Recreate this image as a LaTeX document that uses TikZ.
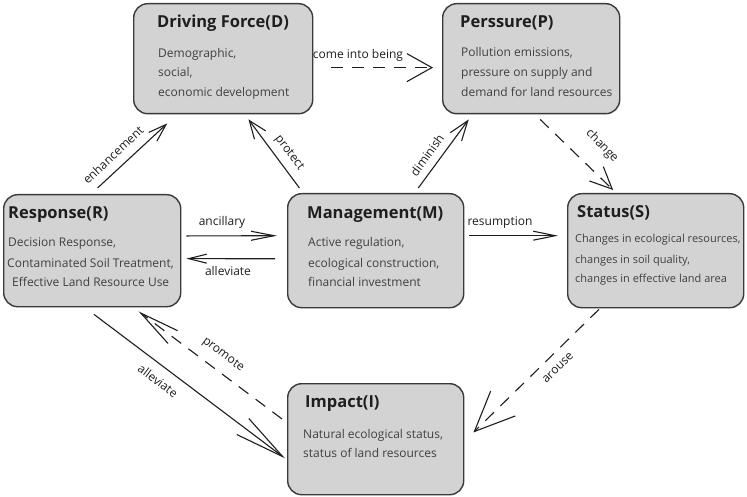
\documentclass[tikz,border=0pt]{standalone}
\usepackage{fontspec}
\setmainfont{Open Sans}
\usetikzlibrary{arrows.meta,calc}
\definecolor{boxfill}{RGB}{211,211,211}
\definecolor{boxline}{RGB}{58,58,58}
\definecolor{txt}{RGB}{30,30,30}
\begin{document}
\begin{tikzpicture}[x=1pt,y=-1pt,
  box/.style={draw=boxline,fill=boxfill,line width=1.4pt,rounded corners=14pt,
    anchor=north west,inner sep=0pt},
  ttl/.style={anchor=base west,inner sep=0pt,text=txt,font=\fontsize{16.5}{19}\selectfont\bfseries},
  bdy/.style={anchor=base west,inner sep=0pt,text=txt!85,font=\fontsize{12}{14}\selectfont},
  sbdy/.style={anchor=base west,inner sep=0pt,text=txt!85,font=\fontsize{11}{13}\selectfont},
  lbl/.style={inner sep=0pt,text=txt,font=\fontsize{12}{14}\selectfont},
  conn/.style={draw=txt,line width=1.1pt},
  dsh/.style={dash pattern=on 12pt off 9pt},
  tip/.style n args={2}{-{Straight Barb[length=#1pt,width=#2pt,line width=1.1pt]}}]
\useasboundingbox (0,0) rectangle (747,497);
% boxes
\node[box,minimum width=179pt,minimum height=110pt] (D) at (133,3) {};
\node[box,minimum width=177pt,minimum height=110pt] (P) at (442,3) {};
\node[box,minimum width=177pt,minimum height=112pt] (R) at (3,194) {};
\node[box,minimum width=176pt,minimum height=114pt] (M) at (287,193) {};
\node[box,minimum width=176pt,minimum height=114pt] (S) at (567,193) {};
\node[box,minimum width=176pt,minimum height=111pt] (I) at (287,383) {};
% texts
\node[ttl] (Dt) at (157,28) {Driving Force(D)};
\node[bdy] (D1) at (158,58) {Demographic,};
\node[bdy] (D2) at (158,77) {social,};
\node[bdy] (D3) at (158,97) {economic development};
\node[ttl] (Pt) at (460,28) {Perssure(P)};
\node[bdy] (P1) at (461,57) {Pollution emissions,};
\node[bdy] (P2) at (461,77) {pressure on supply and};
\node[bdy] (P3) at (461,97) {demand for land resources};
\node[ttl] (Rt) at (8,219) {Response(R)};
\node[bdy] (R1) at (8,247) {Decision Response,};
\node[bdy] (R2) at (7,267) {Contaminated Soil Treatment,};
\node[bdy] (R3) at (12,287) {Effective Land Resource Use};
\node[ttl] (Mt) at (307,219) {Management(M)};
\node[bdy] (M1) at (308,247) {Active regulation,};
\node[bdy] (M2) at (308,267) {ecological construction,};
\node[bdy] (M3) at (308,287) {financial investment};
\node[ttl] (St) at (577,218) {Status(S)};
\node[sbdy] (S1) at (575,243) {Changes in ecological resources,};
\node[sbdy] (S2) at (575,263) {changes in soil quality,};
\node[sbdy] (S3) at (575,282) {changes in effective land area};
\node[ttl] (It) at (305,407) {Impact(I)};
\node[bdy] (I1) at (303,438) {Natural ecological status,};
\node[bdy] (I2) at (303,457) {status of land resources};
% connectors
\draw[conn,dsh,tip={25}{28}] ($(D.north east)!0.58!(D.south east)+(18,0)$) -- ($(P.north west)!0.58!(P.south west)+(-9,0)$);
\draw[conn,tip={18}{12}] ($(R.north west)!0.53!(R.north east)+(0,-6)$) -- ($(D.south west)!0.19!(D.south east)+(0,9)$);
\draw[conn,tip={18}{14}] ($(M.north west)!0.07!(M.north east)+(0,-5)$) -- ($(D.south west)!0.64!(D.south east)+(0,5)$);
\draw[conn,tip={20}{14}] ($(M.north west)!0.74!(M.north east)+(0,-5)$) -- ($(P.south west)!0.15!(P.south east)+(0,5)$);
\draw[conn,dsh,tip={22}{20}] ($(P.south west)!0.55!(P.south east)+(0,5)$) -- ($(S.north west)!0.26!(S.north east)+(0,-3)$);
\draw[conn,tip={23}{9}] ($(R.north east)!0.37!(R.south east)+(5,0)$) -- ($(M.north west)!0.37!(M.south west)+(-10,0)$);
\draw[conn,tip={18}{9}] ($(M.north west)!0.57!(M.south west)+(-12,0)$) -- ($(R.north east)!0.57!(R.south east)+(5,0)$);
\draw[conn,tip={22}{9}] ($(M.north east)!0.37!(M.south east)+(5,0)$) -- ($(S.north west)!0.37!(S.south west)+(-9,0)$);
\draw[conn,tip={50}{20}] ($(R.south west)!0.51!(R.south east)+(0,7)$) -- ($(I.north west)!0.67!(I.south west)+(-2,0)$);
\draw[conn,dsh,tip={40}{16}] ($(I.north west)!0.32!(I.south west)+(-5,0)$) -- ($(R.south west)!0.76!(R.south east)+(0,4)$);
\draw[conn,dsh,tip={40}{35}] ($(S.south west)!0.18!(S.south east)+(0,1)$) -- ($(I.north east)!0.44!(I.south east)+(9,0)$);
% labels
\node[lbl] (l1) at (358,55) {come into being};
\node[lbl,rotate=43] (l2) at (113,155) {enhancement};
\node[lbl,rotate=-53] (l3) at (289,153) {protect};
\node[lbl,rotate=54] (l4) at (427,155) {diminish};
\node[lbl,rotate=-46] (l5) at (602,146) {change};
\node[lbl] (l6) at (222,222) {ancillary};
\node[lbl] (l7) at (228,271) {alleviate};
\node[lbl] (l8) at (500,223) {resumption};
\node[lbl,rotate=-37] (l9) at (158,381) {alleviate};
\node[lbl,rotate=-37] (l10) at (223,355) {promote};
\node[lbl,rotate=44] (l11) at (558,368) {arouse};
\end{tikzpicture}
\end{document}
